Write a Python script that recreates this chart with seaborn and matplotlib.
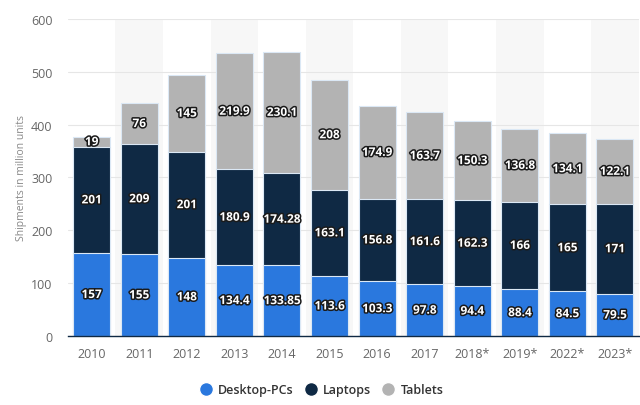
import pandas as pd
import seaborn as sns
import matplotlib.pyplot as plt
import matplotlib.patheffects as pe
from matplotlib.lines import Line2D


# Data
years = ['2010', '2011', '2012', '2013', '2014', '2015', '2016', '2017',
         '2018*', '2019*', '2022*', '2023*']
desktop = [157, 155, 148, 134.4, 133.85, 113.6, 103.3, 97.8, 94.4, 88.4, 84.5, 79.5]
laptops = [201, 209, 201, 180.9, 174.28, 163.1, 156.8, 161.6, 162.3, 166, 165, 171]
tablets = [19, 76, 145, 219.9, 230.1, 208, 174.9, 163.7, 150.3, 136.8, 134.1, 122.1]
labels = {'desktop': ['157', '155', '148', '134.4', '133.85', '113.6', '103.3', '97.8',
                      '94.4', '88.4', '84.5', '79.5'],
          'laptops': ['201', '209', '201', '180.9', '174.28', '163.1', '156.8', '161.6',
                      '162.3', '166', '165', '171'],
          'tablets': ['19', '76', '145', '219.9', '230.1', '208', '174.9', '163.7',
                      '150.3', '136.8', '134.1', '122.1']}

colors = {'Desktop-PCs': '#2a78de', 'Laptops': '#0f2944', 'Tablets': '#b3b3b3'}

df = pd.DataFrame({'year': years, 'desktop': desktop, 'laptops': laptops, 'tablets': tablets})
df['lap_top'] = df['desktop'] + df['laptops']
df['total'] = df['lap_top'] + df['tablets']

sns.set_style('white')
plt.rcParams['font.family'] = ['Open Sans', 'DejaVu Sans']

fig = plt.figure(figsize=(6.4, 4.06), dpi=100)
ax = fig.add_axes([0.106, 0.17, 0.892, 0.781])

# alternating column background
for i in range(len(years)):
    if i % 2 == 1:
        ax.axvspan(i - 0.5, i + 0.5, color='#f7f7f7', zorder=0, lw=0)

ax.yaxis.grid(True, color='#e6e6e6', lw=0.8, zorder=0.5)
ax.set_axisbelow(True)

# stacked bars drawn as cumulative layers
for col, name in [('total', 'Tablets'), ('lap_top', 'Laptops'), ('desktop', 'Desktop-PCs')]:
    sns.barplot(data=df, x='year', y=col, color=colors[name], width=0.78,
                edgecolor='#dbe8f5', linewidth=0.8, saturation=1, ax=ax, zorder=2)

# value labels
stroke = [pe.withStroke(linewidth=2.2, foreground='#1a1a1a')]
for i in range(len(years)):
    mids = [desktop[i] / 2,
            desktop[i] + laptops[i] / 2,
            desktop[i] + laptops[i] + tablets[i] / 2]
    for key, y in zip(['desktop', 'laptops', 'tablets'], mids):
        ax.text(i, y, labels[key][i], ha='center', va='center', color='white',
                fontsize=8.5, fontweight='bold', path_effects=stroke, zorder=5)

ax.set_xlim(-0.5, len(years) - 0.5)
ax.set_ylim(0, 600)
ax.set_yticks(range(0, 601, 100))
ax.set_xlabel('')
ax.set_ylabel('Shipments in million units', color='#888888', fontsize=7.5, labelpad=3)
ax.tick_params(axis='both', colors='#666666', labelsize=9, length=0)
ax.tick_params(axis='x', pad=8)
ax.tick_params(axis='y', pad=11)

for s in ['top', 'right', 'left']:
    ax.spines[s].set_visible(False)
ax.spines['bottom'].set_color('#0f2944')
ax.spines['bottom'].set_linewidth(1)
ax.spines['bottom'].set_zorder(6)

# legend
handles = [Line2D([0], [0], marker='o', color='w', markerfacecolor=colors[n],
                  markersize=10, label=n) for n in colors]
fig.legend(handles=handles, loc='center', bbox_to_anchor=(0.5, 0.037), ncol=3,
           frameon=False, prop={'family': 'Open Sans', 'size': 9, 'weight': 'semibold'},
           handletextpad=0.25, columnspacing=0.6, handlelength=1.5,
           labelcolor='#333333')

fig.savefig('out.png', dpi=100)
